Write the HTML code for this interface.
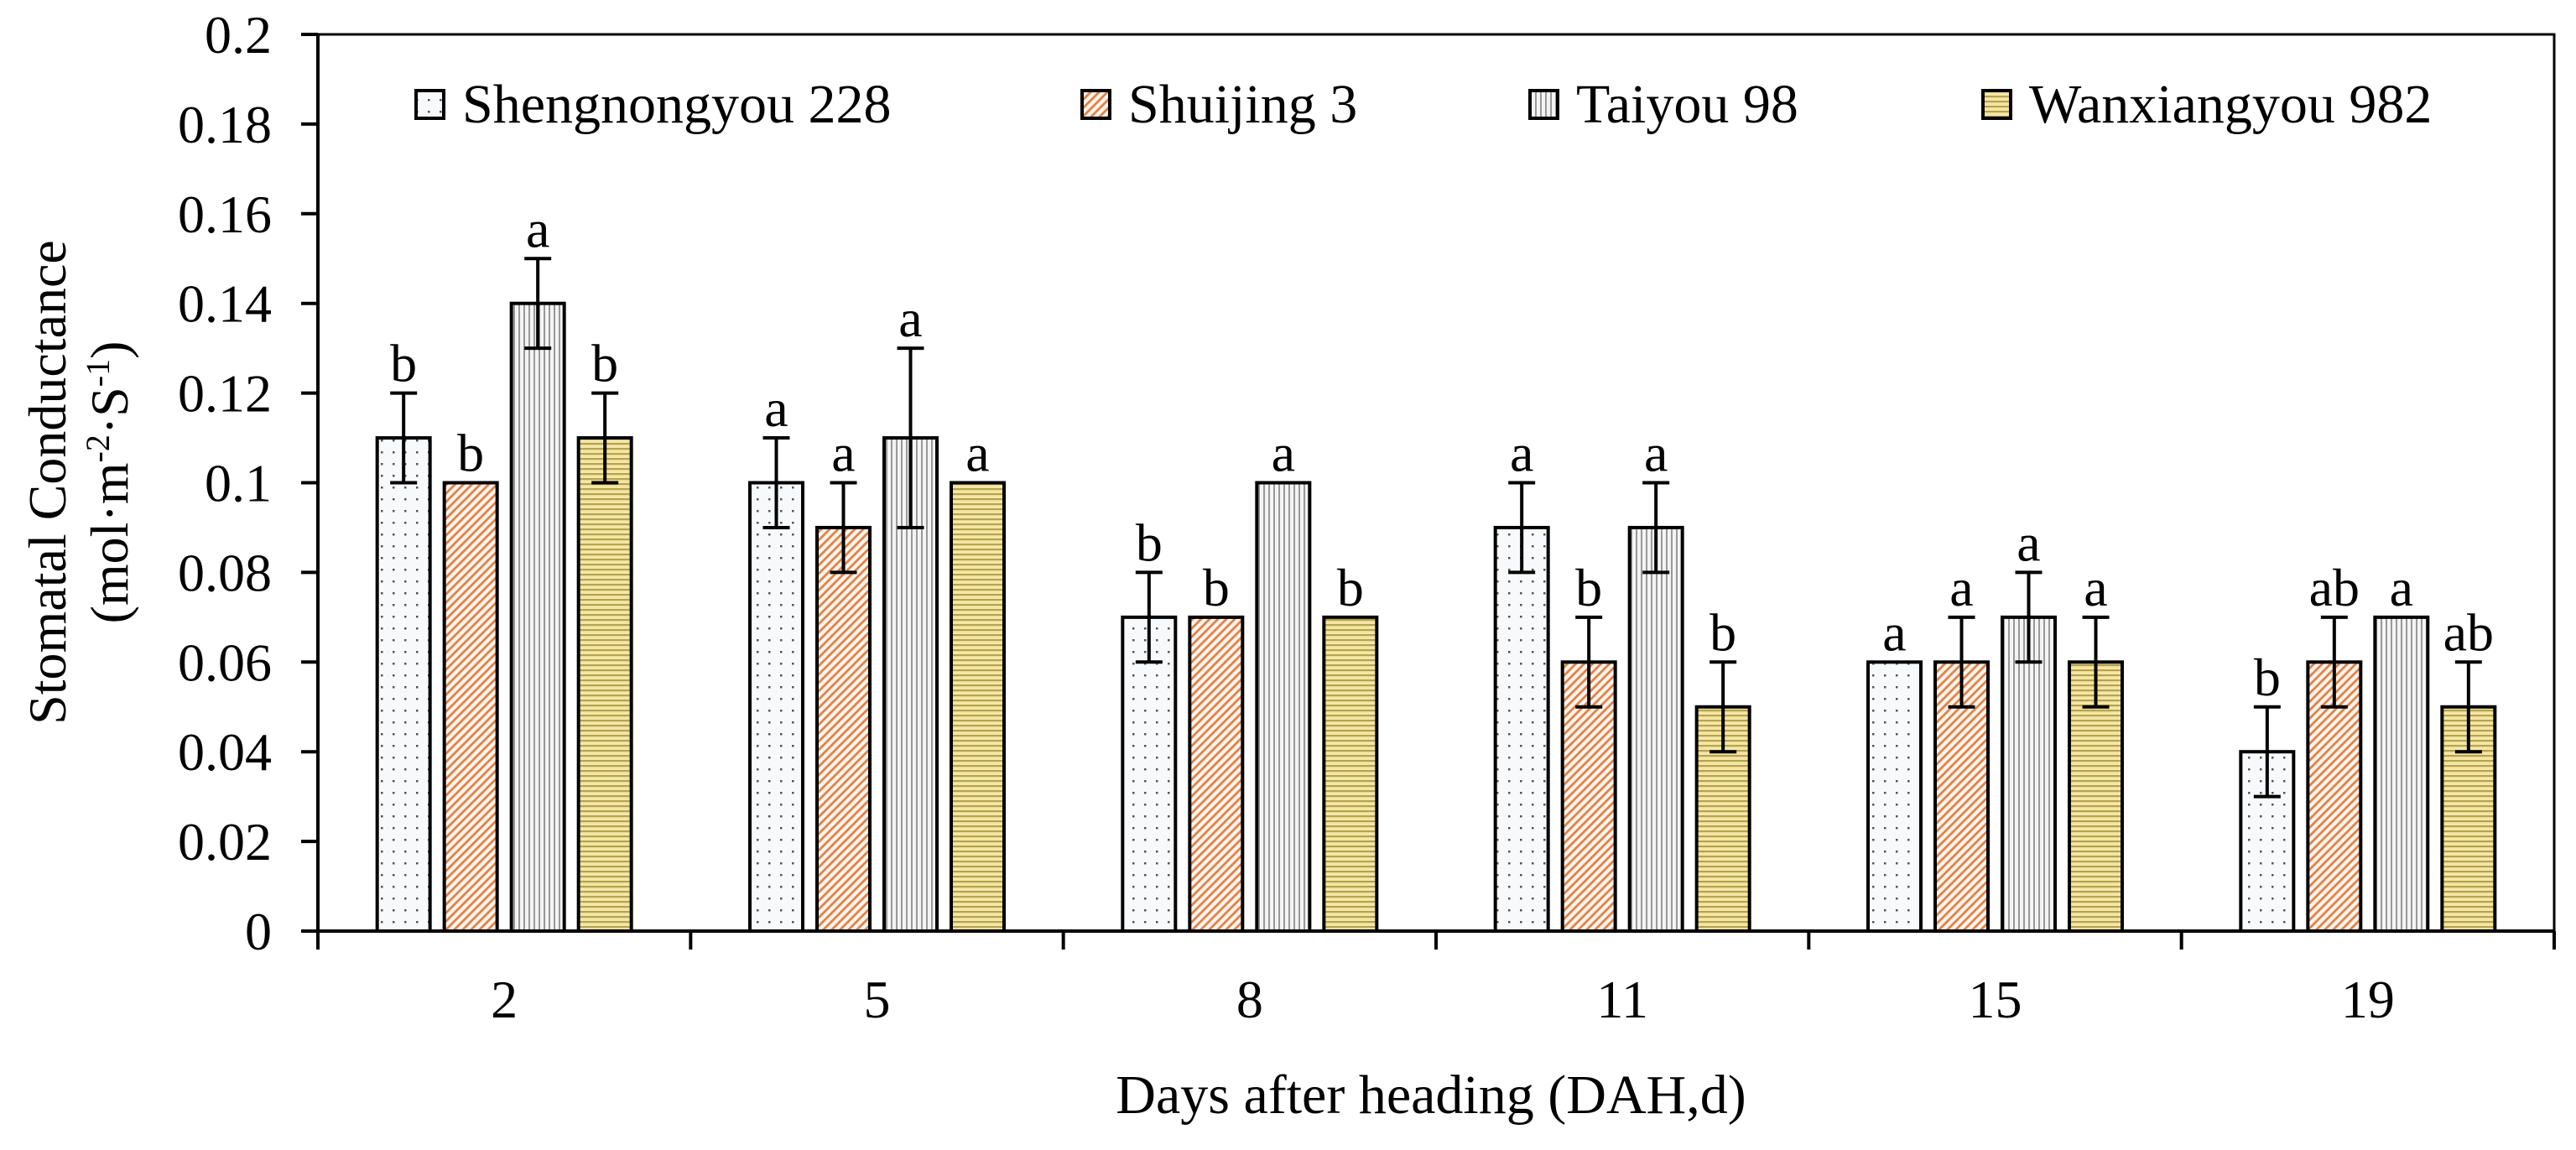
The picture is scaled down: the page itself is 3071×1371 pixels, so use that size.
<!DOCTYPE html>
<html><head><meta charset="utf-8"><style>
html,body{margin:0;padding:0;background:#fff;}
svg{display:block;font-family:"Liberation Serif","Times New Roman",serif;}
svg text{font-family:"Liberation Serif","Times New Roman",serif;}
</style></head><body>
<svg id="chart" width="3071" height="1371" viewBox="0 0 3071 1371" xmlns="http://www.w3.org/2000/svg">
<defs>
<pattern id="p-dots" width="14" height="14" patternUnits="userSpaceOnUse"><rect width="14" height="14" fill="#f8f9fb"/><rect x="6" y="6" width="2.5" height="2.5" fill="#555"/></pattern>
<pattern id="p-diag" width="10" height="10" patternUnits="userSpaceOnUse"><rect width="10" height="10" fill="#fdf3ec"/><path d="M-2,2 L2,-2 M0,10 L10,0 M8,12 L12,8" stroke="#de8449" stroke-width="2.8"/></pattern>
<pattern id="p-vert" width="6" height="6" patternUnits="userSpaceOnUse"><rect width="6" height="6" fill="#f4f4f4"/><rect x="0" y="0" width="2" height="6" fill="#999"/></pattern>
<pattern id="p-horz" width="6" height="6" patternUnits="userSpaceOnUse"><rect width="6" height="6" fill="#f3e7a6"/><rect x="0" y="0" width="6" height="2.2" fill="#b8a24e"/></pattern>
</defs>
<g id="axes"></g>
<g id="bars"></g>
<g id="legend"></g>
</svg>
<script>
const categories = ["2","5","8","11","15","19"];
const seriesNames = ["Shengnongyou 228","Shuijing 3","Taiyou 98","Wanxiangyou 982"];
const s228 = [0.11,0.10,0.07,0.09,0.06,0.04];
const sj3  = [0.10,0.09,0.07,0.06,0.06,0.06];
const ty98 = [0.14,0.11,0.10,0.09,0.07,0.07];
const wx982= [0.11,0.10,0.07,0.05,0.06,0.05];
const err228 = [0.01,0.01,0.01,0.01,0,0.01];
const errSj3 = [0,0.01,0,0.01,0.01,0.01];
const errTy  = [0.01,0.02,0,0.01,0.01,0];
const errWx  = [0.01,0,0,0.01,0.01,0.01];
const let228 = ["b","a","b","a","a","b"];
const letSj3 = ["b","a","b","b","a","ab"];
const letTy  = ["a","a","a","a","a","a"];
const letWx  = ["b","a","b","b","a","ab"];
const yTicks = [0,0.02,0.04,0.06,0.08,0.1,0.12,0.14,0.16,0.18,0.2];
const yTickLabels = ["0","0.02","0.04","0.06","0.08","0.1","0.12","0.14","0.16","0.18","0.2"];

const NS="http://www.w3.org/2000/svg";
const FF='"Liberation Serif","Times New Roman",serif';
const X0=379, X1=3045, Y0=1110, YT=41, YMAX=0.2;
const yS = v => Y0 - (v/YMAX)*(Y0-YT);
const catW = (X1-X0)/categories.length;
const xC = i => X0 + catW*(i+0.5);
const BW=63, PITCH=80;
function mk(tag, attrs, parent){const e=document.createElementNS(NS,tag);for(const k in attrs)e.setAttribute(k,attrs[k]);if(tag==='text')e.setAttribute('font-family',FF);parent.appendChild(e);return e;}
const axes=document.getElementById('axes'), bars=document.getElementById('bars'), leg=document.getElementById('legend');

let fr=mk('path',{d:`M${X0},${YT} L${X1},${YT} L${X1},${Y0}`,fill:'none',stroke:'#000','stroke-width':3},axes);


let ya=mk('line',{x1:X0,y1:YT,x2:X0,y2:Y0,stroke:'#000','stroke-width':4},axes);


let xa=mk('line',{x1:X0-20,y1:Y0,x2:X1,y2:Y0,stroke:'#000','stroke-width':4},axes);


yTicks.forEach((v,i)=>{
  const y=yS(v);
  let t=mk('line',{x1:X0-20,y1:y,x2:X0,y2:y,stroke:'#000','stroke-width':4},axes);
  
  
  let tx=mk('text',{x:X0-55,y:y+22,'text-anchor':'end','font-size':64},axes);
  tx.textContent=yTickLabels[i];
  
  
});
for(let i=0;i<=categories.length;i++){
  const x=X0+catW*i;
  let t=mk('line',{x1:x,y1:Y0,x2:x,y2:Y0+22,stroke:'#000','stroke-width':4},axes);
  
  
}
categories.forEach((c,i)=>{
  let tx=mk('text',{x:xC(i),y:1213,'text-anchor':'middle','font-size':64},axes);
  tx.textContent=c;
  
  
});
let xt=mk('text',{x:1706,y:1327,'text-anchor':'middle','font-size':66},axes);
xt.textContent="Days after heading (DAH,d)";


let yt=mk('text',{x:0,y:0,'text-anchor':'middle','font-size':64,transform:'translate(78,575) rotate(-90)'},axes);
yt.textContent="Stomatal Conductance";


let yt2=mk('text',{x:0,y:0,'text-anchor':'middle','font-size':64,transform:'translate(152,575) rotate(-90)'},axes);
yt2.innerHTML='(mol·m<tspan font-size="40" dy="-22">-2</tspan><tspan dy="22">·S</tspan><tspan font-size="40" dy="-22">-1</tspan><tspan dy="22">)</tspan>';



const series=[s228,sj3,ty98,wx982], errs=[err228,errSj3,errTy,errWx], lets=[let228,letSj3,letTy,letWx];
const fills=['url(#p-dots)','url(#p-diag)','url(#p-vert)','url(#p-horz)'];
const keys=['s228','sj3','ty98','wx982'];
categories.forEach((c,i)=>{
  series.forEach((ser,k)=>{
    const cx=xC(i)+(k-1.5)*PITCH;
    const v=ser[i], e=errs[k][i];
    const yt=yS(v);
    let r=mk('rect',{x:cx-BW/2,y:yt,width:BW,height:Y0-yt,fill:fills[k],stroke:'#000','stroke-width':4},bars);
    
    
    let top=yt;
    if(e>0){
      const ya=yS(v+e), yb=yS(v-e);
      let g=mk('path',{d:`M${cx},${ya} L${cx},${yb} M${cx-16},${ya} L${cx+16},${ya} M${cx-16},${yb} L${cx+16},${yb}`,stroke:'#000','stroke-width':4,fill:'none'},bars);
      
      
      top=ya;
    }
    let lt=mk('text',{x:cx,y:top-14,'text-anchor':'middle','font-size':64},bars);
    lt.textContent=lets[k][i];
    
    
  });
});
const legX=[496,1290,1824,2364];
seriesNames.forEach((n,k)=>{
  let b=mk('rect',{x:legX[k],y:108,width:33,height:33,fill:fills[k],stroke:'#000','stroke-width':4},leg);
  
  
  let t=mk('text',{x:legX[k]+55,y:146,'font-size':66},leg);
  t.textContent=n;
  
  
});
</script>
</body></html>
